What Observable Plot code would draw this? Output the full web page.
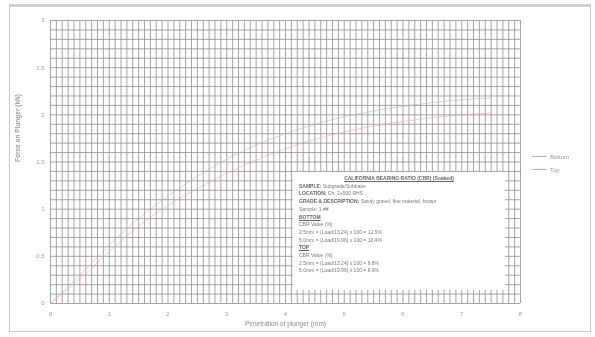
<!DOCTYPE html>
<html>
<head>
<meta charset="utf-8">
<script src="https://cdn.jsdelivr.net/npm/d3@7"></script>
<script src="https://cdn.jsdelivr.net/npm/@observablehq/plot@0.6"></script>
<style>
  html, body { margin: 0; padding: 0; background: #fff; }
  #frame { position: relative; width: 595px; height: 337px; overflow: hidden; background: #fff; filter: blur(0.5px); }
  #border { position: absolute; left: 9px; top: 4px; width: 582px; height: 328px; border: 1px solid #c8c8c8; border-top: 3px solid #d0d0d0; box-sizing: border-box; }
  #chart { position: absolute; left: 0; top: 0; }
  #note { position: absolute; left: 293px; top: 172px; width: 212px; height: 118px; background: #fff; font-family: "Liberation Sans", Arial, sans-serif; font-size: 5px; line-height: 7.7px; color: #777; padding: 3px 6px; box-sizing: border-box; }
  #note .t { text-align: center; font-weight: bold; text-decoration: underline; color: #666; }
  #note b { color: #666; }
  #note u { font-weight: bold; color: #666; }
  #legend { position: absolute; left: 532px; top: 150px; font-family: "Liberation Sans", Arial, sans-serif; font-size: 6px; color: #999; }
  #legend div { height: 13px; display: flex; align-items: center; }
  #legend span.sw { display: inline-block; width: 15px; height: 0; border-top: 1px solid; margin-right: 3px; }
</style>
</head>
<body>
<div id="frame">
  <div id="border"></div>
  <div id="chart"></div>
  <div id="note"></div>
  <div id="legend"></div>
</div>
<script>
// ---- data ----
const penetration = [0, 0.5, 1, 1.5, 2, 2.5, 3, 3.5, 4, 4.5, 5, 5.5, 6, 6.5, 7, 7.5];
const bottomLoad  = [0, 0.30, 0.62, 0.90, 1.14, 1.35, 1.53, 1.68, 1.80, 1.90, 1.98, 2.04, 2.09, 2.13, 2.16, 2.18];
const topLoad     = [0, 0.26, 0.55, 0.82, 1.04, 1.22, 1.38, 1.52, 1.64, 1.74, 1.82, 1.88, 1.93, 1.97, 2.00, 2.02];
const seriesNames = ["Bottom", "Top"];
const seriesColors = ["#c9a9b1", "#f2a0a4"];
const xTicks = [0, 1, 2, 3, 4, 5, 6, 7, 8];
const yTicks = [0, 0.5, 1, 1.5, 2, 2.5, 3];
const yTickLabels = ["0", "0.5", "1", "1.5", "2", "2.5", "3"];
const xLabel = "Penetration of plunger (mm)";
const yLabel = "Force on Plunger (kN)";
const noteLines = [
  ["t", "CALIFORNIA BEARING RATIO (CBR) (Soaked)"],
  ["", "<b>SAMPLE:</b> Subgrade/Subbase"],
  ["", "<b>LOCATION:</b> Ch. 2+500 RHS"],
  ["", "<b>GRADE &amp; DESCRIPTION:</b> Sandy gravel, fine material, brown"],
  ["", "Sample: 1.##"],
  ["", "<u>BOTTOM</u>"],
  ["", "CBR Value (%)"],
  ["", "2.5mm = (Load/13.24) x 100 = 12.5%"],
  ["", "5.0mm = (Load/19.96) x 100 = 10.4%"],
  ["", "<u>TOP</u>"],
  ["", "CBR Value (%)"],
  ["", "2.5mm = (Load/13.24) x 100 = 9.8%"],
  ["", "5.0mm = (Load/19.96) x 100 = 8.9%"]
];

// ---- build ----
const rows = [];
penetration.forEach((p, i) => {
  rows.push({series: seriesNames[0], x: p, y: bottomLoad[i]});
  rows.push({series: seriesNames[1], x: p, y: topLoad[i]});
});
const minorX = d3.range(0, 81).map(i => i / 10);
const minorY = d3.range(0, 31).map(i => i / 10);

const chart = Plot.plot({
  width: 595,
  height: 337,
  marginLeft: 50,
  marginRight: 75,
  marginTop: 20,
  marginBottom: 34,
  style: {fontFamily: "Liberation Sans, Arial, sans-serif", fontSize: "6px", color: "#999", background: "transparent"},
  x: {domain: [0, 8], ticks: xTicks, tickSize: 0, tickPadding: 8, label: null},
  y: {domain: [0, 3], ticks: yTicks, tickFormat: (d, i) => yTickLabels[i], tickSize: 0, tickPadding: 6, label: null},
  color: {domain: seriesNames, range: seriesColors},
  marks: [
    Plot.ruleX(minorX, {stroke: "#8f8f8f", strokeWidth: 1, strokeOpacity: 0.8}),
    Plot.ruleY(minorY, {stroke: "#8f8f8f", strokeWidth: 1, strokeOpacity: 0.8}),
    Plot.line(rows, {x: "x", y: "y", z: "series", stroke: "series", strokeWidth: 1, strokeOpacity: 0.55, curve: "monotone-x"}),
    Plot.axisX({ticks: xTicks, tickSize: 0, tickPadding: 8, fill: "#999"}),
    Plot.axisY({ticks: yTicks, tickFormat: (d, i) => yTickLabels[i], tickSize: 0, tickPadding: 6, fill: "#999"}),
    Plot.text([xLabel], {frameAnchor: "bottom", dy: 22, fontSize: 6.5, fill: "#888"}),
    Plot.text([yLabel], {frameAnchor: "left", dx: -33, rotate: -90, fontSize: 6.5, fontWeight: "bold", fill: "#999"})
  ]
});
document.getElementById("chart").appendChild(chart);

const note = document.getElementById("note");
note.innerHTML = noteLines.map(([cls, txt]) => `<div class="${cls}">${txt}</div>`).join("");

const legend = document.getElementById("legend");
legend.innerHTML = seriesNames.map((n, i) =>
  `<div><span class="sw" style="border-color:${seriesColors[i]}"></span>${n}</div>`).join("");
</script>
</body>
</html>
